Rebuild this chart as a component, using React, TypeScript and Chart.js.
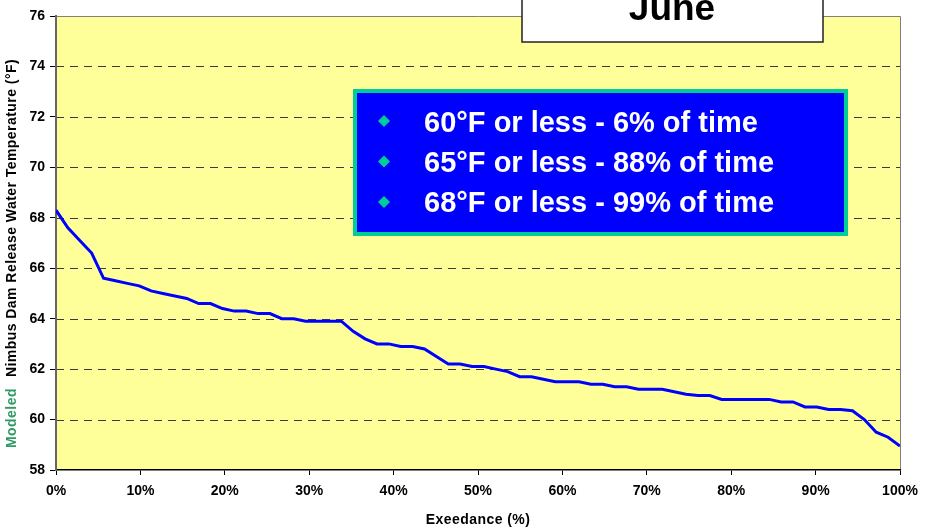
import React, { useEffect, useRef } from "react";
import { Chart, registerables } from "chart.js";

Chart.register(...registerables);

const temperatures: number[] = [
  68.3, 67.6, 67.1, 66.6, 65.6, 65.5, 65.4, 65.3, 65.1, 65.0,
  64.9, 64.8, 64.6, 64.6, 64.4, 64.3, 64.3, 64.2, 64.2, 64.0,
  64.0, 63.9, 63.9, 63.9, 63.9, 63.5, 63.2, 63.0, 63.0, 62.9,
  62.9, 62.8, 62.5, 62.2, 62.2, 62.1, 62.1, 62.0, 61.9, 61.7,
  61.7, 61.6, 61.5, 61.5, 61.5, 61.4, 61.4, 61.3, 61.3, 61.2,
  61.2, 61.2, 61.1, 61.0, 60.95, 60.95, 60.8, 60.8, 60.8, 60.8,
  60.8, 60.7, 60.7, 60.5, 60.5, 60.4, 60.4, 60.35, 60.0, 59.5,
  59.3, 58.95,
];

const yTicks: number[] = [58, 60, 62, 64, 66, 68, 70, 72, 74, 76];
const xTickStep = 10;
const monthLabel = "June";
const summaryLines: string[] = [
  "60°F or less - 6% of time",
  "65°F or less - 88% of time",
  "68°F or less - 99% of time",
];
const yTitleGreen = "Modeled";
const yTitleBlack = "Nimbus Dam Release Water Temperature (°F)";
const xTitle = "Exeedance (%)";

const FONT = "'Liberation Sans', Arial, sans-serif";

const decorPlugin = {
  id: "decor",
  beforeDraw(chart: any) {
    const { ctx, chartArea } = chart;
    const { left, top, right, bottom } = chartArea;
    ctx.save();
    ctx.fillStyle = "#ffffff";
    ctx.fillRect(0, 0, chart.width, chart.height);
    ctx.fillStyle = "#FFFF99";
    ctx.fillRect(left, top, right - left, bottom - top);
    const yScale = chart.scales.y;
    ctx.strokeStyle = "#3a3a3a";
    ctx.lineWidth = 1;
    ctx.setLineDash([8, 6]);
    yTicks.forEach((v) => {
      if (v === yScale.min || v === yScale.max) return;
      const y = Math.round(yScale.getPixelForValue(v)) + 0.5;
      ctx.beginPath();
      ctx.moveTo(left, y);
      ctx.lineTo(right, y);
      ctx.stroke();
    });
    ctx.setLineDash([]);
    ctx.strokeStyle = "#808080";
    ctx.lineWidth = 1;
    ctx.beginPath();
    ctx.moveTo(left, top + 0.5);
    ctx.lineTo(right + 0.5, top + 0.5);
    ctx.lineTo(right + 0.5, bottom);
    ctx.stroke();
    ctx.restore();
  },
  afterDraw(chart: any) {
    const { ctx, chartArea } = chart;
    ctx.save();
    ctx.font = `bold 14px ${FONT}`;
    ctx.letterSpacing = "0.45px";
    ctx.textBaseline = "middle";
    const wG = ctx.measureText(yTitleGreen).width;
    const gap = 11;
    const startY = 448;
    ctx.translate(12, startY);
    ctx.rotate(-Math.PI / 2);
    ctx.textAlign = "left";
    ctx.fillStyle = "#339966";
    ctx.fillText(yTitleGreen, 0, 0);
    ctx.fillStyle = "#000000";
    ctx.fillText(yTitleBlack, wG + gap, 0);
    ctx.setTransform(1, 0, 0, 1, 0, 0);
    ctx.textAlign = "center";
    ctx.fillStyle = "#000000";
    ctx.fillText(xTitle, (chartArea.left + chartArea.right) / 2, 520);
    ctx.letterSpacing = "0px";

    const bx = 355, by = 91, bw = 491, bh = 143;
    ctx.fillStyle = "#0000FF";
    ctx.fillRect(bx, by, bw, bh);
    ctx.strokeStyle = "#00CC99";
    ctx.lineWidth = 4;
    ctx.strokeRect(bx, by, bw, bh);
    ctx.font = `bold 29px ${FONT}`;
    ctx.textAlign = "left";
    ctx.textBaseline = "alphabetic";
    summaryLines.forEach((line, i) => {
      const baseY = 131.5 + i * 40;
      const dy = 121 + i * 40.5;
      ctx.fillStyle = "#00CC99";
      ctx.beginPath();
      ctx.moveTo(384, dy - 6);
      ctx.lineTo(390, dy);
      ctx.lineTo(384, dy + 6);
      ctx.lineTo(378, dy);
      ctx.closePath();
      ctx.fill();
      ctx.fillStyle = "#ffffff";
      ctx.fillText(line, 424, baseY);
    });

    ctx.fillStyle = "#ffffff";
    ctx.fillRect(522, -10, 301, 52);
    ctx.strokeStyle = "#222222";
    ctx.lineWidth = 1.5;
    ctx.strokeRect(522, -10, 301, 52);
    ctx.fillStyle = "#000000";
    ctx.font = `bold 37px ${FONT}`;
    ctx.textAlign = "center";
    ctx.fillText(monthLabel, 672, 20);
    ctx.restore();
  },
};

export default function App() {
  const canvasRef = useRef<HTMLCanvasElement | null>(null);

  useEffect(() => {
    if (!canvasRef.current) return;
    const points = temperatures.map((t, i) => ({
      x: (i * 100) / (temperatures.length - 1),
      y: t,
    }));
    const chart = new Chart(canvasRef.current, {
      type: "line",
      data: {
        datasets: [
          {
            data: points,
            borderColor: "#0000FF",
            borderWidth: 3,
            pointRadius: 0,
            tension: 0,
            fill: false,
          },
        ],
      },
      options: {
        animation: false,
        responsive: false,
        devicePixelRatio: 1,
        layout: { padding: { left: 0, top: 16, right: 29, bottom: 0 } },
        plugins: {
          legend: { display: false },
          tooltip: { enabled: false },
        },
        scales: {
          x: {
            type: "linear",
            min: 0,
            max: 100,
            afterFit: (s: any) => {
              s.height = 59;
            },
            ticks: {
              stepSize: xTickStep,
              autoSkip: false,
              maxRotation: 0,
              padding: 8,
              color: "#000000",
              font: { family: FONT, size: 14, weight: "bold" },
              callback: (v: any) => `${v}%`,
            },
            grid: {
              drawOnChartArea: false,
              drawTicks: true,
              tickLength: 5,
              tickColor: "#000000",
            },
            border: { display: true, color: "#000000", width: 1.5 },
          },
          y: {
            min: yTicks[0],
            max: yTicks[yTicks.length - 1],
            afterFit: (s: any) => {
              s.width = 56;
            },
            afterBuildTicks: (s: any) => {
              s.ticks = yTicks.map((v) => ({ value: v }));
            },
            ticks: {
              padding: 5,
              color: "#000000",
              font: { family: FONT, size: 14, weight: "bold" },
            },
            grid: {
              drawOnChartArea: false,
              drawTicks: true,
              tickLength: 6,
              tickColor: "#000000",
            },
            border: { display: true, color: "#666666", width: 2 },
          },
        },
      },
      plugins: [decorPlugin],
    });
    return () => chart.destroy();
  }, []);

  return (
    <div style={{ position: "fixed", left: 0, top: 0, width: 929, height: 529, background: "#fff" }}>
      <canvas ref={canvasRef} width={929} height={529} style={{ width: 929, height: 529, display: "block" }} />
    </div>
  );
}
